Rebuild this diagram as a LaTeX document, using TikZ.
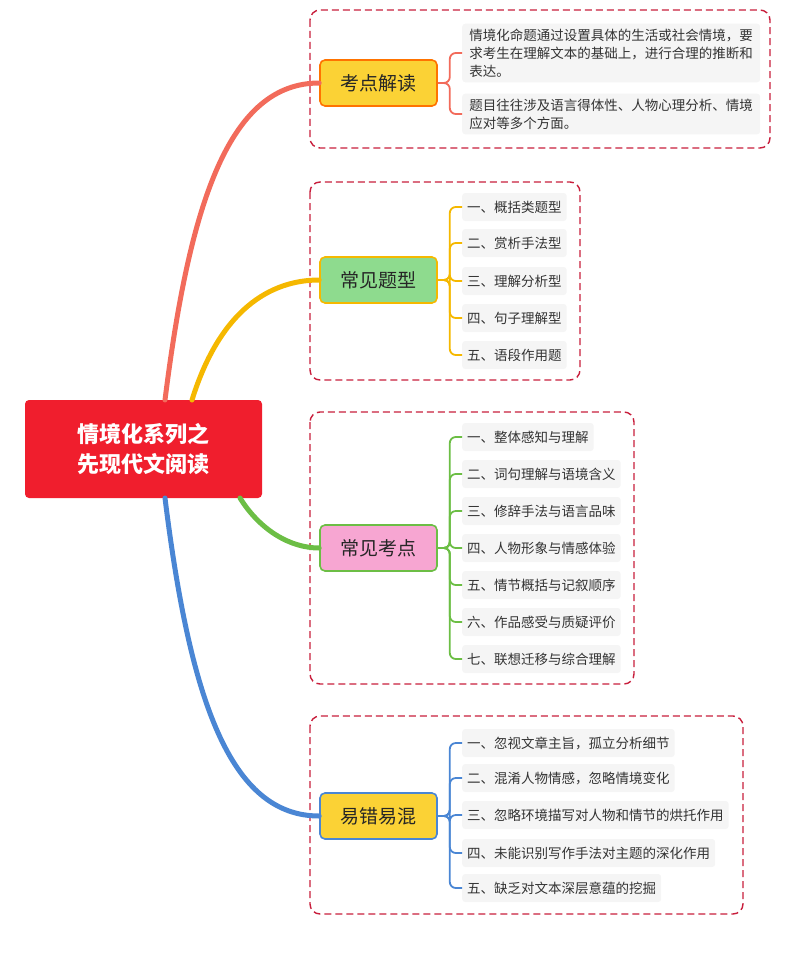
\documentclass[tikz,border=0pt]{standalone}
\usepackage{fontspec}
\setmainfont{Noto Sans CJK SC}
\begin{document}
\begin{tikzpicture}[x=1pt,y=-1pt,
  leaf/.style={fill=gray!8,rounded corners=3pt,font=\fontsize{13.5}{18}\selectfont,text=black!80,inner sep=5pt,anchor=west,minimum height=28pt},
  br/.style={rounded corners=5pt,minimum width=117pt,minimum height=46pt,line width=1.6pt,font=\fontsize{19}{21}\selectfont,text=black!85},
  frame/.style={draw={rgb,255:red,200;green,30;blue,60},line width=1.4pt,rounded corners=10pt,dash pattern=on 7pt off 4pt},
  conn/.style={line width=1.8pt,rounded corners=6pt},
  main/.style={line width=5pt,line cap=round}]
\useasboundingbox (0,0) rectangle (794,963);
\definecolor{cred}{HTML}{F26B5B}\definecolor{cyel}{HTML}{F5B800}
\definecolor{cgrn}{HTML}{6CBE45}\definecolor{cblu}{HTML}{4A86D4}
\definecolor{fyel}{HTML}{FBD235}\definecolor{fgrn}{HTML}{8EDB8E}\definecolor{fpnk}{HTML}{F7A6D2}
% frames
\draw[frame] (310,10) rectangle (770,148);
\draw[frame] (310,182) rectangle (580,380);
\draw[frame] (310,412) rectangle (634,684);
\draw[frame] (310,716) rectangle (743,914);
% root
\node[fill={rgb,255:red,240;green,30;blue,45},rounded corners=4pt,minimum width=237pt,minimum height=98pt,text=white,font=\fontsize{22}{30}\selectfont\bfseries,align=center] (root) at (143.5,449) {情境化系列之\\先现代文阅读};
% branches
\node[br,draw=orange!90!red,fill=fyel] (b1) at (378.5,83) {考点解读};
\node[br,draw=cyel,fill=fgrn] (b2) at (378.5,280) {常见题型};
\node[br,draw=cgrn,fill=fpnk] (b3) at (378.5,548) {常见考点};
\node[br,draw=cblu,fill=fyel] (b4) at (378.5,816) {易错易混};
% main curves
\draw[main,cred] (165,400) .. controls (190,200) and (230,83) .. (b1.west);
\draw[main,cyel] (192,400) .. controls (220,310) and (270,280) .. (b2.west);
\draw[main,cgrn] (240,498) .. controls (260,530) and (290,548) .. (b3.west);
\draw[main,cblu] (165,498) .. controls (190,700) and (230,816) .. (b4.west);
% leaves 1
\node[leaf,align=left,minimum width=298pt] (l11) at (462,53) {情境化命题通过设置具体的生活或社会情境，要\\求考生在理解文本的基础上，进行合理的推断和\\表达。};
\node[leaf,align=left,minimum width=298pt] (l12) at (462,114) {题目往往涉及语言得体性、人物心理分析、情境\\应对等多个方面。};
\foreach \l in {l11,l12}{\draw[conn,cred] (b1.east) -- ++(12,0) |- (\l.west);}
% leaves 2
\foreach \t/\y [count=\i] in {一、概括类题型/207,二、赏析手法型/243,三、理解分析型/281,四、句子理解型/318,五、语段作用题/355}{
  \node[leaf] (l2\i) at (462,\y) {\t};
  \draw[conn,cyel] (b2.east) -- ++(12,0) |- (l2\i.west);}
% leaves 3
\foreach \t/\y [count=\i] in {一、整体感知与理解/437,二、词句理解与语境含义/474,三、修辞手法与语言品味/511,四、人物形象与情感体验/548,五、情节概括与记叙顺序/585,六、作品感受与质疑评价/622,七、联想迁移与综合理解/659}{
  \node[leaf] (l3\i) at (462,\y) {\t};
  \draw[conn,cgrn] (b3.east) -- ++(12,0) |- (l3\i.west);}
% leaves 4
\foreach \t/\y [count=\i] in {一、忽视文章主旨，孤立分析细节/743,二、混淆人物情感，忽略情境变化/778,三、忽略环境描写对人物和情节的烘托作用/815,四、未能识别写作手法对主题的深化作用/853,五、缺乏对文本深层意蕴的挖掘/888}{
  \node[leaf] (l4\i) at (462,\y) {\t};
  \draw[conn,cblu] (b4.east) -- ++(12,0) |- (l4\i.west);}
\end{tikzpicture}
\end{document}
